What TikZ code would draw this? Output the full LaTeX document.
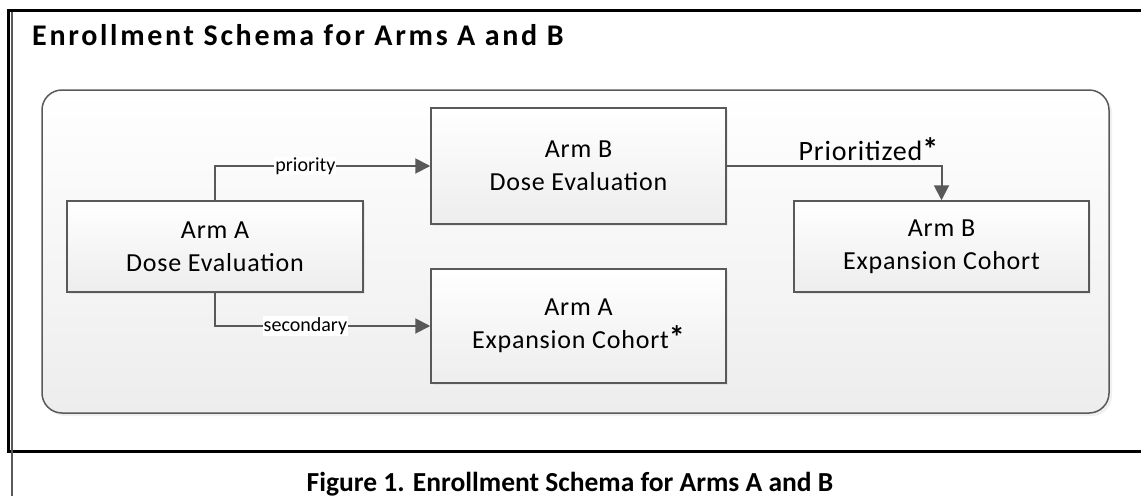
\documentclass[tikz,border=0pt]{standalone}
\usepackage{fontspec}
\setmainfont{Carlito}
\newfontfamily\boxfont[LetterSpace=3]{Carlito}
\newfontfamily\headfont[LetterSpace=9]{Carlito}
\usetikzlibrary{positioning,arrows.meta,shadows}

\definecolor{linegray}{HTML}{595959}
\definecolor{fillgray}{HTML}{EDEDED}
\newcommand{\bigast}{{\fontsize{32}{32}\selectfont\bfseries *}}

\tikzset{
  armbox/.style={draw=linegray, line width=1.5pt, top color=white, bottom color=fillgray,
    drop shadow={shadow xshift=2pt, shadow yshift=-2pt, opacity=0.12},
    align=center, font=\boxfont\fontsize{26}{33}\selectfont, inner sep=0pt},
  flow/.style={draw=linegray, line width=2pt, -{Triangle[length=15pt, width=15pt]}},
  flowlabel/.style={fill=white, inner sep=1pt, font=\fontsize{20}{20}\selectfont}
}

\begin{document}
\begin{tikzpicture}[x=1pt, y=-1pt]
      \useasboundingbox (0,0) rectangle (1141,496);

      % Rahmen
      \draw[black, line width=3pt] (1141,10) -- (8,10) -- (8,451) -- (1141,451);
      \draw[linegray, line width=2pt] (12,12) -- (12,496);

      % Titel und Unterschrift
      \node[anchor=base west, inner sep=0pt, font=\headfont\fontsize{30}{30}\selectfont\bfseries] (title) at (32,45) {Enrollment Schema for Arms A and B};
      \node[anchor=base, inner sep=0pt, font=\fontsize{27.5}{27.5}\selectfont\bfseries] (caption) at (570,491) {Figure 1. Enrollment Schema for Arms A and B};

      % Hintergrund
      \draw[linegray, line width=1.5pt, rounded corners=20pt, top color=white, bottom color=fillgray,
        drop shadow={shadow xshift=3pt, shadow yshift=-3pt, opacity=0.12}] (42,90) rectangle (1109,413);

      % Kästen
      \node[armbox, minimum width=296pt, minimum height=91pt] (armAdose) at (215,246.5) {Arm A\\Dose Evaluation};
      \node[armbox, minimum width=295pt, minimum height=116pt] (armBdose) at (578.5,166) {Arm B\\Dose Evaluation};
      \node[armbox, minimum width=295pt, minimum height=114pt] (armAexp) at (578.5,326) {Arm A\\Expansion Cohort\bigast};
      \node[armbox, minimum width=295pt, minimum height=91pt] (armBexp) at (941.5,246.5) {Arm B\\Expansion Cohort};

      % Pfeile
      \draw[flow] (armAdose.north) |- node[flowlabel, pos=0.71] {priority} (armBdose.west);
      \draw[flow] (armAdose.south) |- node[flowlabel, pos=0.71] {secondary} (armAexp.west);
      \draw[flow] (armBdose.east) -| node[pos=0.33, above=4pt, inner sep=0pt, font=\boxfont\fontsize{28}{28}\selectfont] {Prioritized\bigast} (armBexp.north);
    \end{tikzpicture}
\end{document}
